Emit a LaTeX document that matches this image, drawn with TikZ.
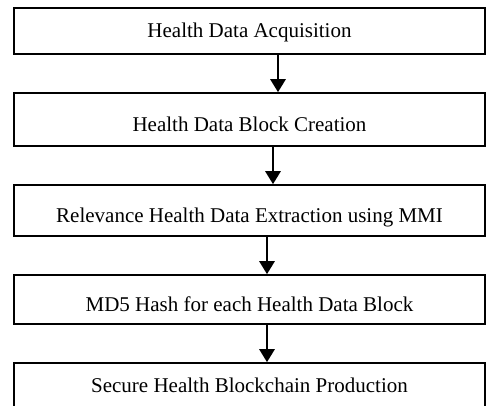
\documentclass[tikz,border=0pt]{standalone}
\usepackage{fontspec}
\setmainfont{Liberation Serif}
\usetikzlibrary{arrows.meta}
\tikzset{
  font={\fontsize{21pt}{24}\selectfont}}

\begin{document}
\begin{tikzpicture}[x=1pt,y=-1pt]
\tikzstyle{box}=[draw=black, line width=1.6pt, rectangle, minimum width=471pt, inner sep=0pt, text height=23pt, text depth=0pt]
\tikzstyle{arr}=[line width=2.8pt, -{Triangle[length=13pt,width=15pt]}]
\useasboundingbox (0,0) rectangle (487,405);
\clip (0,0) rectangle (487,405);
\node [box, minimum height=46pt, text height=13.3pt] (acq) at (249.5,31) {Health Data Acquisition};
\node [box, minimum height=53pt] (blk) at (249.5,119.5) {Health Data Block Creation};
\node [box, minimum height=51pt] (mmi) at (249.5,210.5) {Relevance Health Data Extraction using MMI};
\node [box, minimum height=49pt] (md5) at (249.5,299.5) {MD5 Hash for each Health Data Block};
\node [box, minimum height=45pt, text height=13.3pt] (sec) at (249.5,385.5) {Secure Health Blockchain Production};
\draw [arr] ([xshift=28.5pt]acq.south) -- ([xshift=28.5pt]blk.north);
\draw [arr] ([xshift=23.5pt]blk.south) -- ([xshift=23.5pt]mmi.north);
\draw [arr] ([xshift=17.5pt]mmi.south) -- ([xshift=17.5pt]md5.north);
\draw [arr] ([xshift=17.5pt]md5.south) -- ([xshift=17.5pt]sec.north);
\end{tikzpicture}
\end{document}
